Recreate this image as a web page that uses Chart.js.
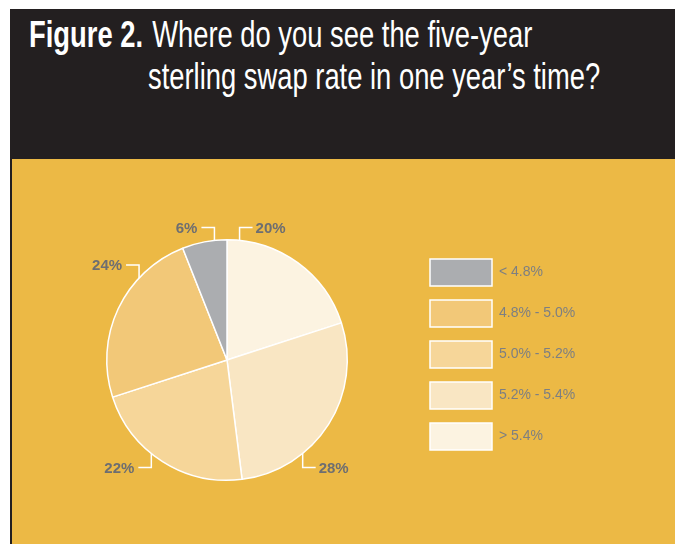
<!DOCTYPE html>
<html>
<head>
<meta charset="utf-8">
<script src="https://cdn.jsdelivr.net/npm/chart.js@4"></script>
<style>
  html, body { margin: 0; padding: 0; background: #fff; }
  body { width: 675px; height: 544px; position: relative; overflow: hidden; }
  #head {
    position: absolute; left: 10px; top: 9px; width: 665px; height: 150px;
    background: #231f20; color: #fff; overflow: hidden;
    font-family: "Liberation Sans", Arial, sans-serif;
    font-size: 36px; line-height: 36px;
  }
  #head .l1, #head .l2 {
    position: absolute; white-space: nowrap;
    transform: scaleX(0.76); transform-origin: left top;
  }
  #head .l1 { left: 19px; top: 8px; }
  #head .l2 { left: 138px; top: 50px; }
  #head b { margin-right: 2px; }
  #panel {
    position: absolute; left: 10px; top: 159px; width: 663px; height: 385px;
    background: #ecb945; border-left: 2px solid #231f20;
  }
  #wrap { position: absolute; left: 0; top: 0; width: 663px; height: 385px; }
</style>
</head>
<body>
<div id="head">
  <div class="l1"><b>Figure 2.</b> Where do you see the five-year</div>
  <div class="l2">sterling swap rate in one year’s time?</div>
</div>
<div id="panel">
  <div id="wrap"><canvas id="pie"></canvas></div>
</div>
<script>
// legend order (top to bottom)
const categories = ['< 4.8%', '4.8% - 5.0%', '5.0% - 5.2%', '5.2% - 5.4%', '> 5.4%'];
const shares = [6, 24, 22, 28, 20];
const colors = ['#abadb0', '#f2c878', '#f6d699', '#f9e6c3', '#fcf3e1'];

// the pie runs clockwise from the top starting with the last category
const pieLabels = categories.slice().reverse();
const pieData = shares.slice().reverse();
const pieColors = colors.slice().reverse();

// where each leader line leaves the circle, degrees clockwise from 12 o'clock
const anchorDeg = [6, 141, 219, 313, 354];

const leaderLabels = {
  id: 'leaderLabels',
  afterDatasetsDraw(chart) {
    const ctx = chart.ctx;
    const arcs = chart.getDatasetMeta(0).data;
    ctx.save();
    ctx.strokeStyle = '#ffffff';
    ctx.lineWidth = 1.5;
    ctx.fillStyle = '#6d6e71';
    ctx.font = 'bold 15px "Liberation Sans", Arial, sans-serif';
    ctx.textBaseline = 'middle';
    arcs.forEach((arc, i) => {
      const a = anchorDeg[i] * Math.PI / 180;
      const r = arc.outerRadius;
      const px = arc.x + r * Math.sin(a);
      const py = arc.y - r * Math.cos(a);
      const up = py < arc.y;
      const right = px > arc.x;
      const ey = up ? py - 13 : py + 14;
      const ex = right ? px + 13 : px - 13;
      ctx.beginPath();
      ctx.moveTo(px, py);
      ctx.lineTo(px, ey);
      ctx.lineTo(ex, ey);
      ctx.stroke();
      ctx.textAlign = right ? 'left' : 'right';
      ctx.fillText(pieData[i] + '%', right ? ex + 3 : ex - 4, ey + 1);
    });
    ctx.restore();
  }
};

// pin the legend next to the pie
const legendSpot = {
  id: 'legendSpot',
  beforeDraw(chart) {
    const lg = chart.legend;
    lg.left = 404;
    lg.top = 86;
    lg.right = 663;
    lg.bottom = 385;
  }
};

new Chart(document.getElementById('pie'), {
  type: 'pie',
  data: {
    labels: pieLabels,
    datasets: [{
      data: pieData,
      backgroundColor: pieColors,
      borderColor: '#ffffff',
      borderWidth: 1.5
    }]
  },
  options: {
    responsive: true,
    maintainAspectRatio: false,
    animation: false,
    layout: { padding: { left: 94, top: 80, right: 327, bottom: 63 } },
    plugins: {
      tooltip: { enabled: false },
      legend: {
        position: 'chartArea',
        align: 'start',
        reverse: true,
        labels: {
          boxWidth: 62,
          boxHeight: 27,
          padding: 14,
          color: '#7d7f82',
          font: { family: '"Liberation Sans", Arial, sans-serif', size: 14 }
        }
      }
    }
  },
  plugins: [leaderLabels, legendSpot]
});
</script>
</body>
</html>
